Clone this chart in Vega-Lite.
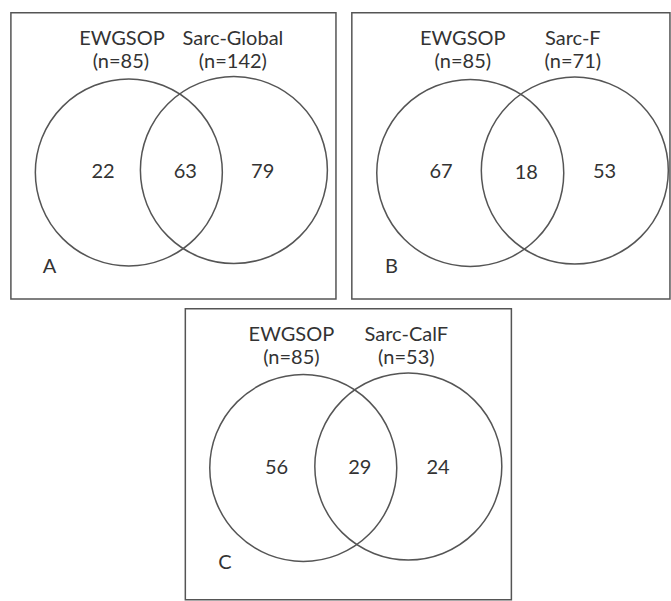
{
  "$schema": "https://vega.github.io/schema/vega-lite/v6.json",
  "width": 671,
  "height": 601,
  "autosize": {"type": "fit", "contains": "padding"},
  "padding": 0,
  "background": "white",
  "config": {"view": {"stroke": null}, "axis": {"disable": true}},
  "datasets": {
    "boxes": [
      {"panel": "A", "x1": 11, "y1": 13, "x2": 339, "y2": 305},
      {"panel": "B", "x1": 355, "y1": 13, "x2": 676, "y2": 305},
      {"panel": "C", "x1": 187, "y1": 315, "x2": 516, "y2": 612}
    ],
    "circles": [
      {"panel": "A", "set": "EWGSOP", "cx": 130, "cy": 176},
      {"panel": "A", "set": "Sarc-Global", "cx": 236, "cy": 173.5},
      {"panel": "B", "set": "EWGSOP", "cx": 474.5, "cy": 176.5},
      {"panel": "B", "set": "Sarc-F", "cx": 580, "cy": 174},
      {"panel": "C", "set": "EWGSOP", "cx": 306, "cy": 477.5},
      {"panel": "C", "set": "Sarc-CalF", "cx": 412, "cy": 476}
    ],
    "labels": [
      {"panel": "A", "label": "EWGSOP", "x": 123, "y": 40},
      {"panel": "A", "label": "(n=85)", "x": 122, "y": 63},
      {"panel": "A", "label": "Sarc-Global", "x": 235, "y": 40},
      {"panel": "A", "label": "(n=142)", "x": 235, "y": 63},
      {"panel": "A", "label": "22", "x": 104, "y": 176},
      {"panel": "A", "label": "63", "x": 187, "y": 176},
      {"panel": "A", "label": "79", "x": 265, "y": 176},
      {"panel": "A", "label": "A", "x": 50, "y": 272},
      {"panel": "B", "label": "EWGSOP", "x": 467, "y": 40},
      {"panel": "B", "label": "(n=85)", "x": 467, "y": 63},
      {"panel": "B", "label": "Sarc-F", "x": 578, "y": 40},
      {"panel": "B", "label": "(n=71)", "x": 578, "y": 63},
      {"panel": "B", "label": "67", "x": 445, "y": 176},
      {"panel": "B", "label": "18", "x": 531, "y": 177},
      {"panel": "B", "label": "53", "x": 610, "y": 176},
      {"panel": "B", "label": "B", "x": 395, "y": 272},
      {"panel": "C", "label": "EWGSOP", "x": 294, "y": 342},
      {"panel": "C", "label": "(n=85)", "x": 294, "y": 365},
      {"panel": "C", "label": "Sarc-CalF", "x": 410, "y": 342},
      {"panel": "C", "label": "(n=53)", "x": 410, "y": 365},
      {"panel": "C", "label": "56", "x": 279, "y": 478},
      {"panel": "C", "label": "29", "x": 363, "y": 478},
      {"panel": "C", "label": "24", "x": 442, "y": 478},
      {"panel": "C", "label": "C", "x": 227, "y": 574}
    ]
  },
  "layer": [
    {
      "data": {"name": "boxes"},
      "mark": {"type": "rect", "fill": null, "fillOpacity": 0, "stroke": "#555555", "strokeWidth": 1.5},
      "encoding": {
        "x": {"field": "x1", "type": "quantitative", "scale": {"domain": [0, 671], "nice": false, "zero": false}},
        "x2": {"field": "x2"},
        "y": {"field": "y1", "type": "quantitative", "scale": {"domain": [0, 601], "nice": false, "zero": false, "reverse": true}},
        "y2": {"field": "y2"}
      }
    },
    {
      "data": {"name": "circles"},
      "mark": {"type": "point", "shape": "circle", "filled": false, "stroke": "#555555", "strokeWidth": 1.5, "opacity": 1, "clip": false},
      "encoding": {
        "x": {"field": "cx", "type": "quantitative"},
        "y": {"field": "cy", "type": "quantitative"},
        "size": {"value": 34969}
      }
    },
    {
      "data": {"name": "labels"},
      "mark": {"type": "text", "font": "Lato", "fontSize": 20, "color": "#333333", "baseline": "middle", "align": "center"},
      "encoding": {
        "x": {"field": "x", "type": "quantitative"},
        "y": {"field": "y", "type": "quantitative"},
        "text": {"field": "label"},
        "fontWeight": {"condition": {"test": "datum.label === '(n=53)'", "value": "bold"}, "value": "normal"}
      }
    }
  ]
}
